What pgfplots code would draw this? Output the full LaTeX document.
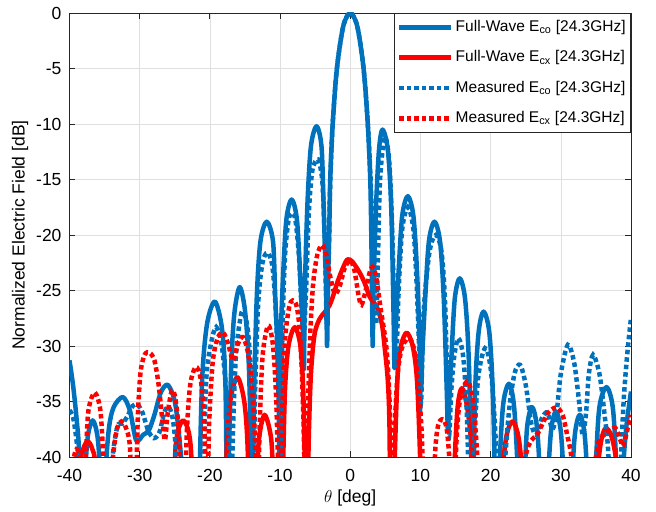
\documentclass[border=0pt]{standalone}
\usepackage{fontspec}
\setmainfont{Liberation Sans}
\usepackage{pgfplots}
\pgfplotsset{compat=1.18}
\definecolor{mblue}{rgb}{0,0.447,0.741}
\definecolor{axgray}{gray}{0.15}
\begin{document}
\fontsize{17.5bp}{20bp}\selectfont
\begin{tikzpicture}
\useasboundingbox (-69.5bp,-55bp) rectangle (586.5bp,457bp);
\begin{axis}[
  at={(0,0)}, anchor=south west,
  scale only axis, width=561.5bp, height=444bp,
  xmin=-40, xmax=40, ymin=-40, ymax=0,
  xtick={-40,-30,...,40}, ytick={-40,-35,...,0},
  grid=major, grid style={gray!25, line width=0.6bp},
  axis line style={axgray, line width=0.8bp},
  tick style={axgray, line width=0.8bp},
  tick align=inside, major tick length=6bp,
  /pgf/number format/assume math mode=true,
  tick label style={font=\fontsize{17.5bp}{20bp}\selectfont, text=black},
  xticklabel style={yshift=-6bp},
  yticklabel style={xshift=-2bp},
  xlabel={$\theta$ [deg]},
  ylabel={Normalized Electric Field [dB]},
  label style={font=\fontsize{17.5bp}{20bp}\selectfont},
  xlabel style={at={(axis description cs:0.5,-0.092)}, anchor=center},
  ylabel style={at={(axis description cs:-0.088,0.5)}, anchor=center},
  legend cell align=left,
  legend style={at={(1,1)}, anchor=north east, draw=axgray, line width=0.8bp, fill=white,
    font=\fontsize{15.5bp}{18bp}\selectfont, inner xsep=3bp, inner ysep=5bp, row sep=12.5bp},
  legend image code/.code={\draw[#1] (0bp,0bp) -- (52bp,0bp);},
]
% Full-Wave Eco
\addplot[mblue, line width=4.5bp, line join=round, smooth, tension=0.5] coordinates {
(-40,-31.3) (-39.5,-33.5) (-39,-36.5) (-38.6,-40) (-38.2,-50)
(-37.8,-42) (-37.4,-38.2) (-36.7,-36.7) (-36.0,-38.2) (-35.6,-42) (-35.2,-50)
(-34.9,-42) (-34.4,-37.5) (-33.7,-35.5) (-32.4,-34.6) (-31.4,-35.8) (-30.5,-38.5) (-29.5,-38.0) (-28.7,-37.6) (-27.9,-36.2) (-27.0,-34.2) (-26.0,-33.5) (-25.0,-35.0) (-24.4,-38) (-23.9,-42) (-23.5,-50)
(-21.7,-50) (-21.5,-43) (-21.1,-33.0) (-20.4,-28.0) (-19.3,-26.0) (-18.3,-28.3) (-17.8,-33) (-17.6,-43) (-17.5,-50)
(-17.35,-41.7) (-16.95,-31.7) (-16.5,-27) (-15.75,-24.7) (-15.0,-26.8) (-14.45,-31.7) (-14.05,-41.7) (-13.9,-45)
(-13.75,-35.8) (-13.33,-25.8) (-12.8,-20.6) (-11.9,-18.8) (-11.0,-20.6) (-10.67,-25.8) (-10.25,-31.5) (-10.1,-35)
(-9.96,-30) (-9.58,-23.8) (-9.1,-18.6) (-8.35,-16.8) (-7.6,-18.6) (-7.12,-23.8) (-6.74,-29) (-6.6,-32)
(-6.47,-25) (-6.1,-17.2) (-5.6,-12) (-4.8,-10.2) (-4.1,-12) (-3.8,-17.2) (-3.43,-25) (-3.3,-30)
(-3.15,-24) (-3.0,-20) (-2.85,-15) (-2.5,-10) (-1.9,-5) (-1.0,-1.2) (0,0) (1.0,-1.2) (1.9,-5) (2.5,-10) (2.85,-15) (3.0,-20) (3.1,-25) (3.2,-30)
(3.32,-25) (3.67,-17.5) (4.1,-12.3) (4.6,-10.5) (5.35,-12.3) (5.84,-17.5) (6.18,-27.5) (6.3,-32)
(6.45,-29) (6.87,-23.5) (7.4,-18.3) (8.2,-16.5) (9.0,-18.3) (9.53,-23.5) (9.95,-31) (10.1,-34)
(10.25,-31) (10.67,-25.8) (11.2,-20.6) (12.0,-18.8) (12.8,-20.6) (13.33,-25.8) (13.75,-34) (13.9,-37.5)
(14.04,-36) (14.42,-30.9) (14.9,-25.7) (15.6,-23.9) (16.35,-25.7) (16.87,-30.9) (17.26,-40.9) (17.4,-50)
(17.55,-43) (17.8,-33.9) (18.3,-28.7) (19.0,-26.9) (19.8,-28.7) (20.3,-33.9) (20.65,-43) (20.8,-50)
(21.3,-40.4) (21.8,-35.2) (22.6,-33.4) (23.3,-35.2) (23.8,-40.4) (24.3,-50)
(24.8,-42.5) (25.2,-37.3) (25.9,-35.5) (26.6,-37.3) (27.1,-42.5) (27.6,-50)
(28.1,-42.9) (28.6,-37.7) (29.3,-35.9) (30.0,-37.7) (30.5,-42.9) (31.0,-50)
(31.5,-43.2) (32.0,-38) (32.7,-36.2) (33.4,-38) (33.9,-43.2) (34.5,-50)
(35.0,-40.7) (35.5,-35.5) (36.5,-33.7) (37.4,-35.5) (37.9,-40.7) (38.4,-50)
(38.8,-42) (39.3,-37.5) (40,-34.1)
};
\addlegendentry{Full-Wave E\textsubscript{co} [24.3GHz]}
% Full-Wave Ecx
\addplot[red, line width=4.5bp, line join=round, smooth, tension=0.5] coordinates {
(-40,-50) (-38.9,-50) (-38.5,-41) (-38.0,-39.2) (-37.4,-38.6) (-36.8,-39.2) (-36.3,-41) (-36.0,-50)
(-25.4,-50) (-25.0,-40.5) (-24.6,-37.8) (-23.8,-36.7) (-23.0,-37.8) (-22.6,-40.5) (-22.2,-50)
(-17.9,-50) (-17.6,-39.5) (-17.1,-35) (-16.1,-32.8) (-15.1,-35) (-14.6,-39.5) (-14.3,-50)
(-13.4,-50) (-13.15,-40) (-12.8,-37.5) (-12.2,-36.2) (-11.5,-37.5) (-11.1,-40) (-10.8,-50)
(-9.8,-50) (-9.6,-42) (-9.3,-34) (-8.8,-30) (-7.9,-28.3) (-7.1,-30) (-6.7,-34) (-6.45,-42) (-6.3,-50)
(-6.1,-45) (-5.9,-38) (-5.6,-32.5) (-5.1,-29) (-4.4,-27.6) (-3.7,-27.0) (-3.0,-26.4) (-2.5,-25.6) (-1.8,-24.2) (-1.0,-22.9) (-0.4,-22.2) (0.3,-22.4) (1.35,-23.4) (2.1,-24.4) (2.8,-25.6) (3.8,-26.5) (4.5,-28) (4.9,-30.1) (5.35,-33.1) (5.6,-37.6) (5.75,-50)
(6.1,-50) (6.35,-40) (6.8,-32) (7.3,-29.8) (8.05,-28.8) (8.9,-30) (9.5,-33) (9.95,-40) (10.3,-50)
(14.6,-50) (14.85,-41) (15.3,-35.5) (15.9,-33.8) (16.6,-35.3) (17.3,-39) (17.7,-44) (18.0,-50)
(21.3,-50) (21.6,-42.5) (22.2,-38.3) (23.1,-36.8) (24.0,-38.3) (24.6,-42.5) (24.9,-50)
(34.9,-50) (35.2,-42) (35.7,-38.7) (36.4,-37.4) (37.3,-38.3) (38.1,-41.5) (38.9,-50) (40,-50)
};
\addlegendentry{Full-Wave E\textsubscript{cx} [24.3GHz]}
% Measured Eco
\addplot[mblue, line width=4.5bp, dash pattern=on 4.5bp off 3bp, smooth, tension=0.5] coordinates {
(-40,-35.8) (-39.5,-36.4) (-39.0,-38.5) (-38.5,-42) (-38.0,-50)
(-34.5,-50) (-34.0,-41) (-33.2,-37.3) (-32.5,-37) (-31.8,-36.4) (-31.0,-35.4) (-30.3,-35.3) (-29.6,-36) (-28.8,-37.6) (-28.0,-38.3) (-27.2,-37.8) (-26.5,-36) (-25.9,-35.5) (-25.3,-36.5) (-24.8,-40) (-24.3,-50)
(-21.3,-50) (-20.6,-34) (-19.9,-30) (-19.1,-28.3) (-18.3,-30) (-17.7,-34) (-17.2,-40) (-17.0,-50)
(-16.8,-40) (-16.3,-31) (-15.6,-27.3) (-15.2,-27) (-14.6,-28.5) (-14.1,-33) (-13.8,-40)
(-13.5,-33) (-13.1,-26) (-12.5,-22.5) (-11.8,-21.6) (-11.1,-22.8) (-10.6,-27) (-10.2,-35) (-10.0,-45)
(-9.7,-30) (-9.3,-22) (-8.8,-18.7) (-8.3,-18) (-7.8,-18.7) (-7.3,-22) (-6.9,-27) (-6.6,-29)
(-6.3,-25) (-5.9,-18) (-5.4,-14.2) (-4.6,-13.2) (-4.0,-15) (-3.7,-19) (-3.5,-24) (-3.35,-28)
(-3.15,-24) (-3.0,-20) (-2.85,-15) (-2.5,-10) (-1.9,-5) (-1.0,-1.2) (0,0) (1.0,-1.2) (1.9,-5) (2.5,-10) (2.9,-15) (3.2,-20) (3.45,-25) (3.7,-28)
(3.95,-22) (4.25,-15) (4.9,-11.2) (5.5,-13) (5.9,-18) (6.25,-26) (6.5,-32)
(6.9,-25) (7.4,-19.5) (8.2,-17.5) (9.0,-19.5) (9.5,-25) (9.9,-32) (10.1,-35)
(10.45,-27) (11.3,-21.5) (12.2,-20) (13.0,-21.5) (13.5,-26) (13.9,-35) (14.1,-38)
(14.4,-34) (14.8,-31) (15.4,-29.3) (16.1,-31) (16.6,-36) (17.0,-45) (17.3,-50)
(17.6,-40) (18.2,-33) (19.2,-30.2) (20.0,-32) (20.6,-37) (21.2,-45) (21.5,-50)
(21.9,-42) (22.6,-36) (23.4,-32.5) (24.2,-31.7) (25.0,-33.5) (25.8,-37) (26.5,-38) (27.3,-36.5) (28.1,-36) (28.8,-37.5) (29.4,-36) (30.0,-32.5) (31.0,-29.9) (31.9,-31.5) (32.6,-35) (33.1,-38) (33.6,-36) (34.0,-32.5) (34.6,-30.8) (35.5,-32.5) (36.2,-36) (36.8,-40) (37.3,-50)
(38.2,-50) (38.6,-40) (39.0,-34.5) (39.5,-30.5) (40,-27.5)
};
\addlegendentry{Measured E\textsubscript{co} [24.3GHz]}
% Measured Ecx
\addplot[red, line width=4.5bp, dash pattern=on 4.5bp off 3bp, smooth, tension=0.5] coordinates {
(-40,-44) (-39.5,-40.5) (-39.0,-39.3) (-38.5,-40) (-38.1,-42) (-37.7,-40) (-37.3,-35.8) (-36.4,-34.2) (-35.6,-35.8) (-35.2,-40) (-34.9,-45)
(-34.2,-45) (-33.8,-40) (-33.2,-37.4) (-32.6,-36.8) (-32.0,-37.3) (-31.4,-39) (-31.0,-45)
(-30.6,-45) (-30.3,-37) (-29.9,-32.5) (-29.3,-30.8) (-28.6,-30.6) (-27.9,-31.3) (-27.3,-33.5) (-26.8,-36.5) (-26.4,-38.5) (-26.0,-36) (-25.4,-34) (-24.9,-34.8) (-24.4,-38) (-24.0,-45)
(-23.6,-45) (-23.3,-38) (-22.8,-33.5) (-22.0,-31.9) (-21.3,-33) (-20.8,-37) (-20.4,-45)
(-20.1,-37) (-19.6,-31.5) (-18.9,-29.3) (-18.1,-28.8) (-17.4,-29.8) (-16.7,-31.3) (-16.0,-29.8) (-15.3,-29.2) (-14.6,-30.5) (-14.1,-33) (-13.6,-38) (-13.2,-45)
(-12.9,-37) (-12.5,-31) (-11.9,-28.5) (-11.5,-28.3) (-11.0,-30) (-10.6,-34) (-10.3,-40) (-10.0,-45)
(-9.7,-36) (-9.3,-29.5) (-8.7,-26.5) (-8.2,-25.9) (-7.6,-26.5) (-7.1,-29.5) (-6.7,-36) (-6.3,-45)
(-6.0,-35) (-5.7,-29) (-5.3,-24.5) (-4.7,-21.8) (-4.0,-20.9) (-3.4,-21.8) (-2.9,-23.6) (-2.2,-25.3) (-1.5,-24.6) (-0.8,-23) (0,-22.3) (0.6,-23.2) (1.2,-25.5) (1.6,-26.3) (2.2,-25) (2.8,-23.3) (3.3,-22.9) (3.8,-24.2) (4.3,-26.5) (4.8,-28.5) (5.2,-30.5) (5.6,-35) (5.9,-45)
(6.2,-39) (6.7,-33) (7.3,-30.3) (8.3,-29.3) (9.1,-30.3) (9.7,-33.5) (10.2,-38) (10.6,-45)
(11.8,-45) (12.1,-39.5) (12.5,-37.2) (13.1,-36.6) (13.7,-37.3) (14.1,-40) (14.4,-45)
(14.8,-45) (15.1,-39) (15.6,-35) (16.6,-33.2) (17.4,-34.5) (17.9,-38) (18.3,-42) (18.6,-45)
(24.5,-45) (25.0,-40) (25.8,-38.5) (26.6,-38) (27.4,-37) (28.2,-36) (29.0,-35.6) (29.6,-35.6) (30.3,-36.3) (30.9,-38) (31.5,-40) (32.0,-45)
(34.3,-45) (34.8,-41) (35.4,-38.6) (36.2,-38) (37.0,-37.6) (37.8,-37.4) (38.5,-38.5) (38.9,-39) (39.5,-37.5) (40,-36.2)
};
\addlegendentry{Measured E\textsubscript{cx} [24.3GHz]}
\end{axis}
\end{tikzpicture}
\end{document}
